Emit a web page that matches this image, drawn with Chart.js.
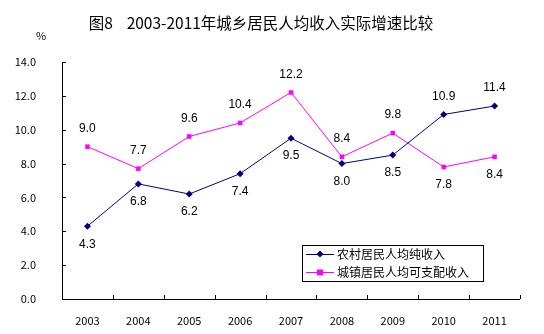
<!DOCTYPE html>
<html><head><meta charset="utf-8">
<script src="https://cdn.jsdelivr.net/npm/chart.js@4/dist/chart.umd.min.js"></script>
<style>html,body{margin:0;padding:0;background:#fff}#wrap{width:544px;height:334px}</style>
</head><body><div id="wrap"><canvas id="c" width="544" height="334"></canvas></div>
<script>
const title = "图8    2003-2011年城乡居民人均收入实际增速比较";
const unitLabel = "%";
const years = ["2003","2004","2005","2006","2007","2008","2009","2010","2011"];
const ruralName = "农村居民人均纯收入";
const urbanName = "城镇居民人均可支配收入";
const rural = [4.3, 6.8, 6.2, 7.4, 9.5, 8.0, 8.5, 10.9, 11.4];
const urban = [9.0, 7.7, 9.6, 10.4, 12.2, 8.4, 9.8, 7.8, 8.4];
// label placement: -1 above, 1 below
const ruralPos = [1,1,1,1,1,1,1,-1,-1];
const urbanPos = [-1,-1,-1,-1,-1,-1,-1,1,1];

const CJK = '"Noto Sans CJK SC", "DejaVu Sans", sans-serif';
const NUM = '"Liberation Sans", Arial, sans-serif';

const deco = {
  id:'deco',
  afterDraw(chart){
    const ctx = chart.ctx, ca = chart.chartArea;
    const xs = chart.scales.x, ys = chart.scales.y;
    ctx.save();
    // title
    ctx.fillStyle = '#000';
    ctx.font = '15.5px ' + CJK;
    ctx.textAlign = 'center'; ctx.textBaseline = 'middle';
    ctx.fillText(title, 261, 23);
    ctx.font = '11px ' + CJK;
    ctx.fillText(unitLabel, 41, 36);
    // axes lines
    ctx.strokeStyle = '#000'; ctx.lineWidth = 1;
    ctx.beginPath();
    ctx.moveTo(ca.left+0.5, ca.top); ctx.lineTo(ca.left+0.5, ca.bottom+0.5);
    ctx.lineTo(ca.right, ca.bottom+0.5);
    ctx.stroke();
    // y ticks inside
    ctx.beginPath();
    for (let v=0; v<=14; v+=2){
      const y = Math.round(ys.getPixelForValue(v))+0.5;
      ctx.moveTo(ca.left, y); ctx.lineTo(ca.left+4, y);
    }
    // x ticks at category boundaries
    const n = years.length, w = (ca.right-ca.left)/n;
    for (let i=1;i<=n;i++){
      const x = Math.round(ca.left + i*w)+0.5;
      ctx.moveTo(x, ca.bottom); ctx.lineTo(x, ca.bottom-4);
    }
    ctx.stroke();
    // data labels
    ctx.font = '12px ' + NUM;
    ctx.fillStyle = '#000';
    const draw = (dsIdx, vals, pos) => {
      const meta = chart.getDatasetMeta(dsIdx);
      meta.data.forEach((pt,i)=>{
        ctx.fillText(vals[i].toFixed(1), pt.x, pt.y + pos[i]*18);
      });
    };
    draw(0, rural, ruralPos);
    draw(1, urban, urbanPos);
    // legend
    const lx = 302, ly = 245, lw = 181, lh = 36;
    ctx.fillStyle = '#fff';
    ctx.fillRect(lx, ly, lw, lh);
    ctx.strokeStyle = '#000';
    ctx.strokeRect(lx+0.5, ly+0.5, lw, lh);
    const items = [[ruralName,'#000080','d',254],[urbanName,'#FF00FF','s',272]];
    items.forEach(([t,c,shape,y])=>{
      ctx.strokeStyle = c; ctx.fillStyle = c; ctx.lineWidth = 1;
      ctx.beginPath(); ctx.moveTo(306, y+0.5); ctx.lineTo(334, y+0.5); ctx.stroke();
      const cx = 320;
      ctx.beginPath();
      if (shape==='d'){ ctx.moveTo(cx, y-3.5); ctx.lineTo(cx+3.5,y); ctx.lineTo(cx,y+3.5); ctx.lineTo(cx-3.5,y); ctx.closePath(); ctx.fill(); }
      else { ctx.fillRect(cx-3, y-2.5, 6, 6); }
      ctx.fillStyle = '#000';
      ctx.font = '12px ' + CJK;
      ctx.textAlign = 'left';
      ctx.fillText(t, 337, y+0.5);
    });
    ctx.restore();
  }
};

new Chart(document.getElementById('c'), {
  type:'line',
  data:{
    labels: years,
    datasets:[
      {label: ruralName, data: rural, borderColor:'#000080', backgroundColor:'#000080', borderWidth:1,
       pointStyle:'rectRot', pointRadius:3.5, pointBorderWidth:0, tension:0},
      {label: urbanName, data: urban, borderColor:'#FF00FF', backgroundColor:'#FF00FF', borderWidth:1,
       pointStyle:'rect', pointRadius:3.2, pointBorderWidth:0, tension:0}
    ]
  },
  options:{
    responsive:false, animation:false, devicePixelRatio:1,
    layout:{padding:{top:62, right:24, left:0, bottom:0}},
    plugins:{legend:{display:false}, title:{display:false}, tooltip:{enabled:false}},
    scales:{
      x:{offset:true, grid:{display:false}, border:{display:false},
         ticks:{color:'#000', font:{family:CJK, size:11}, padding:7, maxRotation:0},
         afterFit(s){ s.height = 35; }},
      y:{min:0, max:14, grid:{display:false}, border:{display:false},
         ticks:{stepSize:2, color:'#000', font:{family:CJK, size:11}, padding:18,
                callback:(v)=>Number(v).toFixed(1)},
         afterFit(s){ s.width = 62; }}
    }
  },
  plugins:[deco]
});
</script></body></html>
